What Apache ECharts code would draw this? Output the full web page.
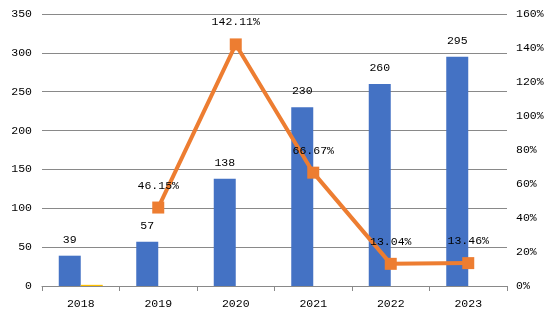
<!DOCTYPE html>
<html>
<head>
<meta charset="utf-8">
<script src="https://cdn.jsdelivr.net/npm/echarts@6/dist/echarts.min.js"></script>
<style>
html,body{margin:0;padding:0;background:#fff;}
#chart{width:554px;height:323px;}
</style>
</head>
<body>
<div id="chart"></div>
<script>
var categories = ['2018', '2019', '2020', '2021', '2022', '2023'];
var values = [39, 57, 138, 230, 260, 295];
var helperBar = [1.5, null, null, null, null, null];
var growthRates = [null, 46.15, 142.11, 66.67, 13.04, 13.46];
var leftTicks = [0, 350, 50];
var rightTicks = [0, 160, 20];

var FONT = '"Liberation Mono", "DejaVu Sans Mono", monospace';
var FS = 11.5;
var chart = echarts.init(document.getElementById('chart'), null, {renderer: 'canvas'});
chart.setOption({
  animation: false,
  backgroundColor: '#ffffff',
  grid: {left: 42, right: 47, top: 14, bottom: 37},
  xAxis: {
    type: 'category',
    data: categories,
    boundaryGap: true,
    axisLine: {lineStyle: {color: '#898989', width: 1}},
    axisTick: {show: true, length: 5, lineStyle: {color: '#898989'}},
    axisLabel: {color: '#000', fontFamily: FONT, fontSize: FS, margin: 12}
  },
  yAxis: [{
    type: 'value',
    min: leftTicks[0], max: leftTicks[1], interval: leftTicks[2],
    axisLine: {show: false},
    axisTick: {show: false},
    splitLine: {lineStyle: {color: '#898989', width: 1}},
    axisLabel: {color: '#000', fontFamily: FONT, fontSize: FS, margin: 10}
  }, {
    type: 'value',
    min: rightTicks[0], max: rightTicks[1], interval: rightTicks[2],
    axisLine: {show: false},
    axisTick: {show: false},
    splitLine: {show: false},
    axisLabel: {color: '#000', fontFamily: FONT, fontSize: FS, margin: 9, formatter: '{value}%'}
  }],
  series: [{
    type: 'bar',
    data: values,
    barWidth: 22,
    barGap: '0%',
    itemStyle: {color: '#4472C4'},
    label: {show: true, position: 'top', distance: 10, color: '#000', fontFamily: FONT, fontSize: FS}
  }, {
    type: 'bar',
    data: helperBar,
    barWidth: 22,
    barGap: '0%',
    itemStyle: {color: '#FFC000'}
  }, {
    type: 'line',
    yAxisIndex: 1,
    data: growthRates,
    symbol: 'rect',
    symbolSize: 12,
    lineStyle: {color: '#ED7D31', width: 4},
    itemStyle: {color: '#ED7D31'},
    label: {show: true, position: 'top', distance: 10, color: '#000', fontFamily: FONT, fontSize: FS,
      formatter: function (p) { return p.value.toFixed(2) + '%'; }}
  }]
});
</script>
</body>
</html>
